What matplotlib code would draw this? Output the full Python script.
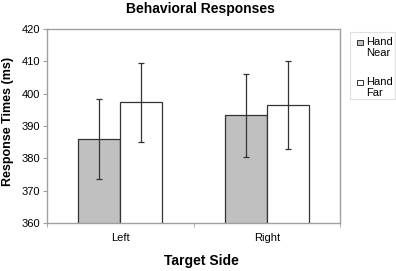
import matplotlib
matplotlib.use("Agg")
import matplotlib.pyplot as plt
import numpy as np
from matplotlib.patches import Rectangle

plt.rcParams['font.family'] = ['Liberation Sans', 'DejaVu Sans']

categories = ["Left", "Right"]
series_names = ["Hand\nNear", "Hand\nFar"]
near_vals = [386.0, 393.3]
far_vals = [397.4, 396.5]
near_err = [12.3, 12.8]
far_err = [12.2, 13.5]
yticks = [360, 370, 380, 390, 400, 410, 420]

W, H = 396, 271
fig = plt.figure(figsize=(W/100, H/100), dpi=100)
ax = fig.add_axes([47/W, 1 - 223/H, (340-47)/W, (223-29)/H])

x = np.arange(len(categories))
w = 0.285
colors = ["#c0c0c0", "#ffffff"]
edge = "#333333"
ax.bar(x - w/2, near_vals, w, color=colors[0], edgecolor=edge, linewidth=0.9, zorder=2)
ax.bar(x + w/2, far_vals, w, color=colors[1], edgecolor=edge, linewidth=0.9, zorder=2)
ax.errorbar(x - w/2, near_vals, yerr=near_err, fmt='none', ecolor=edge, elinewidth=0.9, capsize=2.5, capthick=0.9, zorder=3)
ax.errorbar(x + w/2, far_vals, yerr=far_err, fmt='none', ecolor=edge, elinewidth=0.9, capsize=2.5, capthick=0.9, zorder=3)

ax.set_xlim(-0.5, 1.5)
ax.set_ylim(360, 420)
ax.set_yticks(yticks)
ax.set_xticks(x)
ax.set_xticklabels(categories)
ax.set_xticks([-0.5, 0.5, 1.5], minor=True)
ax.tick_params(axis='x', which='major', length=0, labelsize=8, pad=7)
ax.tick_params(axis='x', which='minor', length=3, color="#a0a0a0")
ax.tick_params(axis='y', length=3, color="#a0a0a0", labelsize=8, pad=2)
for s in ax.spines.values():
    s.set_color("#a0a0a0")
    s.set_linewidth(1.0)

ax.set_ylabel("Response Times (ms)", fontsize=9, fontweight='bold')
ax.yaxis.set_label_coords((8.5 - 47) / 293, (223 - 121) / 194)
ax.yaxis.label.set_va('center')
ax.set_xlabel("Target Side", fontsize=10, fontweight='bold')
ax.xaxis.set_label_coords((201 - 47) / 293, (223 - 261) / 194)
ax.xaxis.label.set_va('center')
fig.text(200/W, 1 - 8.5/H, "Behavioral Responses", fontsize=10, fontweight='bold', ha='center', va='center')

# legend (drawn manually to match two-line entries with marker on first line)
fig.patches.append(Rectangle((350/W, 1 - 99/H), 45/W, 67/H, transform=fig.transFigure,
                             facecolor='white', edgecolor="#e0e0e0", linewidth=0.8))
for i, name in enumerate(series_names):
    ytop = 37 + i * 40
    fig.patches.append(Rectangle((357/W, 1 - (ytop + 8)/H), 5.5/W, 5.5/H, transform=fig.transFigure,
                                 facecolor=colors[i], edgecolor=edge, linewidth=0.7))
    fig.text(366/W, 1 - ytop/H, name, fontsize=8, ha='left', va='top', linespacing=1.1)

fig.savefig("out.png", dpi=100)
